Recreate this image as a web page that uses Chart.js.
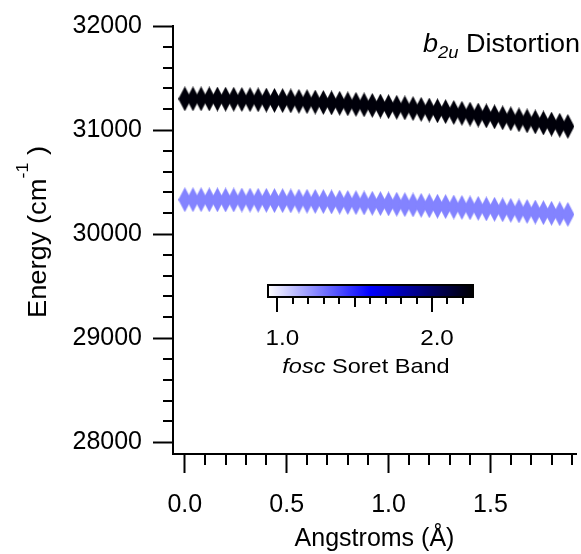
<!DOCTYPE html>
<html>
<head>
<meta charset="utf-8">
<script src="https://cdn.jsdelivr.net/npm/chart.js@4.4.1/dist/chart.umd.min.js"></script>
<style>
  html, body { margin: 0; padding: 0; background: #fff; }
  #wrap { width: 581px; height: 554px; }
</style>
</head>
<body>
<div id="wrap"><canvas id="energyChart"></canvas></div>
<script>
// b2u distortion scan
var angstroms = [0, 0.04, 0.08, 0.12, 0.16, 0.2, 0.24, 0.28, 0.32, 0.36, 0.4, 0.44,
    0.48, 0.52, 0.56, 0.6, 0.64, 0.68, 0.72, 0.76, 0.8, 0.84, 0.88, 0.92,
    0.96, 1.0, 1.04, 1.08, 1.12, 1.16, 1.2, 1.24, 1.28, 1.32, 1.36, 1.4,
    1.44, 1.48, 1.52, 1.56, 1.6, 1.64, 1.68, 1.72, 1.76, 1.8, 1.84, 1.88];
var energyUpper = [31300, 31300, 31300, 31299, 31298, 31297, 31296, 31294, 31292, 31290, 31288, 31285,
    31283, 31280, 31276, 31273, 31269, 31265, 31261, 31257, 31252, 31247, 31242, 31237,
    31231, 31225, 31219, 31213, 31206, 31199, 31192, 31185, 31177, 31169, 31161, 31153,
    31144, 31136, 31127, 31117, 31108, 31098, 31088, 31078, 31068, 31057, 31046, 31035];
var energyLower = [30330, 30330, 30330, 30329, 30329, 30328, 30328, 30327, 30326, 30325, 30324, 30322,
    30321, 30319, 30317, 30316, 30314, 30312, 30309, 30307, 30304, 30302, 30299, 30296,
    30293, 30290, 30287, 30283, 30280, 30276, 30272, 30268, 30264, 30260, 30256, 30252,
    30247, 30242, 30238, 30233, 30228, 30222, 30217, 30212, 30206, 30200, 30195, 30189];
var foscUpper = 2.24;
var foscLower = 1.26;
var yTickValues = [28000, 29000, 30000, 31000, 32000];
var xTickValues = [0, 0.5, 1.0, 1.5];
var cbTickValues = [1.0, 2.0];

var FONT = "'Liberation Sans', Arial, sans-serif";

// white -> blue -> black colour scale used for fosc
var cbMin = 0.94, cbMid = 1.6, cbMax = 2.265;
function foscColor(f) {
    var r, g, b, t;
    if (f <= cbMid) {
        t = Math.max(0, (f - cbMin) / (cbMid - cbMin));
        r = g = Math.round(255 * (1 - t));
        b = 255;
    } else {
        t = Math.min(1, (f - cbMid) / (cbMax - cbMid));
        r = g = 0;
        b = Math.round(255 * (1 - t));
    }
    return 'rgb(' + r + ',' + g + ',' + b + ')';
}

// tall diamond marker
function makeDiamond(color) {
    var c = document.createElement('canvas');
    c.width = 13;
    c.height = 25;
    var g = c.getContext('2d');
    g.fillStyle = color;
    g.beginPath();
    g.moveTo(6.5, 0);
    g.lineTo(13, 12.5);
    g.lineTo(6.5, 25);
    g.lineTo(0, 12.5);
    g.closePath();
    g.fill();
    return c;
}

function toPoints(ys) {
    return angstroms.map(function (x, i) { return { x: x, y: ys[i] }; });
}

// draws text pieces [text, fontSpec, dy] in a row, stretched a little sideways
function drawRun(ctx, parts, x, y, stretch) {
    ctx.save();
    ctx.translate(x, y);
    ctx.scale(stretch, 1);
    var cx = 0;
    parts.forEach(function (p) {
        ctx.font = p[1];
        ctx.fillText(p[0], cx, p[2] || 0);
        cx += ctx.measureText(p[0]).width;
    });
    ctx.restore();
}
function runWidth(ctx, parts, stretch) {
    var w = 0;
    parts.forEach(function (p) { ctx.font = p[1]; w += ctx.measureText(p[0]).width; });
    return w * stretch;
}

var extrasPlugin = {
    id: 'extras',
    afterDraw: function (chart) {
        var ctx = chart.ctx;
        var xs = chart.scales.x, ys = chart.scales.y;
        var area = chart.chartArea;
        ctx.save();
        ctx.strokeStyle = '#000';
        ctx.lineWidth = 2;
        ctx.beginPath();
        // minor y ticks every 200
        for (var v = 28200; v < 32000; v += 200) {
            if (v % 1000 === 0) continue;
            var py = Math.round(ys.getPixelForValue(v));
            ctx.moveTo(area.left - 10, py);
            ctx.lineTo(area.left, py);
        }
        // minor x ticks every 0.1
        for (var k = 1; k <= 19; k++) {
            if (k % 5 === 0) continue;
            var px = Math.round(xs.getPixelForValue(k / 10));
            ctx.moveTo(px, area.bottom);
            ctx.lineTo(px, area.bottom + 11);
        }
        ctx.stroke();
        ctx.fillStyle = '#000';
        ctx.textBaseline = 'alphabetic';

        // y title with superscript
        ctx.save();
        ctx.translate(46, 232);
        ctx.rotate(-Math.PI / 2);
        var yParts = [['Energy (cm', '26px ' + FONT, 0], ['-1', '17px ' + FONT, -18], [' )', '26px ' + FONT, 0]];
        drawRun(ctx, yParts, -runWidth(ctx, yParts, 1.05) / 2, 0, 1.05);
        ctx.restore();

        // b2u Distortion label
        drawRun(ctx, [['b', 'italic 25px ' + FONT, 0], ['2u', 'italic 17px ' + FONT, 6],
            [' Distortion', '25px ' + FONT, 0]], 423, 52, 1.08);

        // colour bar
        var bx0 = 268, bx1 = 473, by0 = 285, by1 = 297;
        var grad = ctx.createLinearGradient(bx0, 0, bx1, 0);
        var steps = 20;
        for (var s = 0; s <= steps; s++) {
            grad.addColorStop(s / steps, foscColor(cbMin + (cbMax - cbMin) * s / steps));
        }
        ctx.fillStyle = grad;
        ctx.fillRect(bx0, by0, bx1 - bx0, by1 - by0);
        ctx.strokeRect(bx0, by0, bx1 - bx0, by1 - by0);
        function cbX(f) { return bx0 + (f - cbMin) / (cbMax - cbMin) * (bx1 - bx0); }
        ctx.beginPath();
        for (var m = 10; m <= 22; m++) {
            var len = (m % 10 === 0) ? 15 : (m % 5 === 0 ? 10 : 7);
            var cx = Math.round(cbX(m / 10));
            ctx.moveTo(cx, by1);
            ctx.lineTo(cx, by1 + len);
        }
        ctx.stroke();
        ctx.fillStyle = '#000';
        cbTickValues.forEach(function (f) {
            var parts = [[f.toFixed(1), '22px ' + FONT, 0]];
            drawRun(ctx, parts, cbX(f) + 5 - runWidth(ctx, parts, 1.1) / 2, 345, 1.1);
        });
        // colour bar title
        var tParts = [['fosc', 'italic 21px ' + FONT, 0], [' Soret Band', '21px ' + FONT, 0]];
        drawRun(ctx, tParts, 366 - runWidth(ctx, tParts, 1.12) / 2, 373, 1.12);
        ctx.restore();
    }
};

var ctx = document.getElementById('energyChart').getContext('2d');
new Chart(ctx, {
    type: 'scatter',
    data: {
        datasets: [
            {
                label: 'upper',
                data: toPoints(energyUpper),
                pointStyle: makeDiamond(foscColor(foscUpper)),
                showLine: false
            },
            {
                label: 'lower',
                data: toPoints(energyLower),
                pointStyle: makeDiamond(foscColor(foscLower)),
                showLine: false
            }
        ]
    },
    options: {
        responsive: true,
        maintainAspectRatio: false,
        animation: false,
        devicePixelRatio: 1,
        clip: false,
        layout: { padding: { top: 22, right: 0, left: 0, bottom: 0 } },
        plugins: {
            legend: { display: false },
            tooltip: { enabled: false }
        },
        scales: {
            x: {
                type: 'linear',
                min: -0.058,
                max: 1.92,
                afterBuildTicks: function (scale) {
                    scale.ticks = xTickValues.map(function (v) { return { value: v }; });
                },
                afterFit: function (scale) { scale.height = 100; },
                grid: { drawOnChartArea: false, tickLength: 19, tickWidth: 2, tickColor: '#000' },
                border: { color: '#000', width: 2 },
                ticks: {
                    color: '#000',
                    padding: 17,
                    maxRotation: 0,
                    font: { family: FONT, size: 25 },
                    callback: function (v) { return Number(v).toFixed(1); }
                },
                title: {
                    display: true,
                    text: 'Angstroms (\u00C5)',
                    color: '#000',
                    font: { family: FONT, size: 25 },
                    padding: { top: 0, bottom: 0 }
                }
            },
            y: {
                type: 'linear',
                min: 27886,
                max: 32000,
                afterBuildTicks: function (scale) {
                    scale.ticks = yTickValues.map(function (v) { return { value: v }; });
                },
                afterFit: function (scale) { scale.width = 173; },
                grid: { drawOnChartArea: false, tickLength: 20, tickWidth: 2, tickColor: '#000' },
                border: { color: '#000', width: 2 },
                ticks: {
                    color: '#000',
                    padding: 11,
                    font: { family: FONT, size: 25 },
                    callback: function (v) { return String(v); }
                }
            }
        }
    },
    plugins: [extrasPlugin]
});
</script>
</body>
</html>
